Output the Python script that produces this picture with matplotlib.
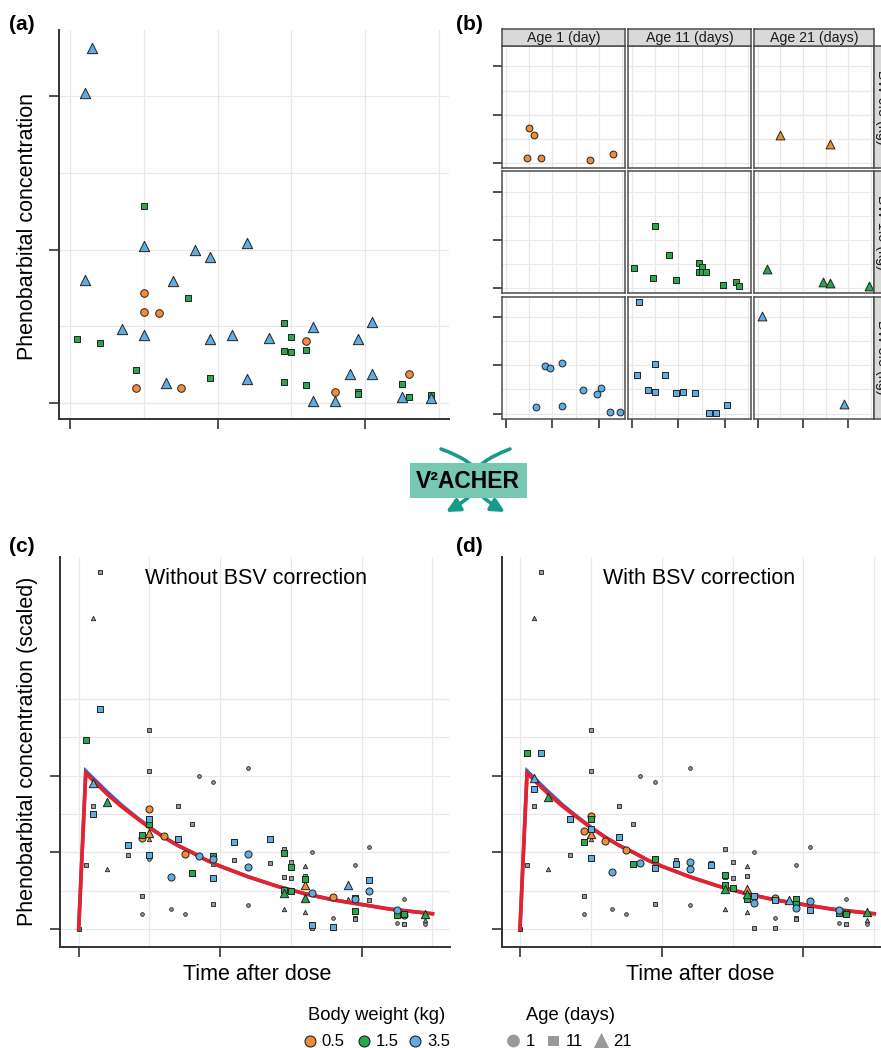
import numpy as np
import matplotlib.pyplot as plt
from matplotlib.patches import Rectangle, FancyArrowPatch

# ---------------- data ----------------
# raw observations, panels (a) and (b)
obs_time = [5.0, 6.0, 4.5, 7.5, 18.0, 23.0,
            5.0, 16.0,
            0.5, 5.0, 4.5, 8.0, 9.5, 14.5, 14.5, 15.0, 15.0, 16.0, 19.5, 19.5, 22.5, 23.0,
            2.0, 14.5, 16.0, 24.5,
            8.5, 9.5, 12.0, 16.5, 19.5, 20.5, 6.5, 12.0, 22.5, 24.5,
            1.5, 5.0, 1.0, 7.0, 3.5, 5.0, 9.5, 11.0, 13.5, 16.5, 18.0, 20.5,
            1.0, 19.0]
obs_conc = [7.2, 5.85, 1.0, 1.0, 0.7, 1.9,
            5.9, 4.05,
            4.18, 12.85, 2.12, 6.84, 1.65, 5.22, 3.39, 4.31, 3.32, 3.44, 0.70, 0.58, 1.23, 0.39,
            3.92, 1.35, 1.15, 0.5,
            9.95, 9.5, 10.4, 4.95, 4.15, 5.3, 1.3, 1.55, 0.38, 0.35,
            23.15, 10.2, 8.0, 7.95, 4.8, 4.45, 4.2, 4.45, 4.25, 0.15, 0.12, 1.87,
            20.2, 1.9]
obs_bw = [0.5, 0.5, 0.5, 0.5, 0.5, 0.5,
          0.5, 0.5,
          1.5, 1.5, 1.5, 1.5, 1.5, 1.5, 1.5, 1.5, 1.5, 1.5, 1.5, 1.5, 1.5, 1.5,
          1.5, 1.5, 1.5, 1.5,
          3.5, 3.5, 3.5, 3.5, 3.5, 3.5, 3.5, 3.5, 3.5, 3.5,
          3.5, 3.5, 3.5, 3.5, 3.5, 3.5, 3.5, 3.5, 3.5, 3.5, 3.5, 3.5,
          3.5, 3.5]
obs_age = [1, 1, 1, 1, 1, 1,
           21, 21,
           11, 11, 11, 11, 11, 11, 11, 11, 11, 11, 11, 11, 11, 11,
           21, 21, 21, 21,
           1, 1, 1, 1, 1, 1, 1, 1, 1, 1,
           11, 11, 11, 11, 11, 11, 11, 11, 11, 11, 11, 11,
           21, 21]

# other individuals (grey background points, panels c and d)
oth_time = [0.0, 4.5, 5.0, 6.5, 7.5, 8.5, 9.5, 12.0, 12.0, 16.5, 18.0, 19.5, 20.5, 22.5, 23.0, 24.5,
            0.0, 1.5, 1.0, 0.5, 5.0, 5.0, 3.5, 4.5, 7.0, 8.0, 9.5, 9.5, 11.0, 13.5, 14.5, 15.0,
            14.5, 15.0, 16.0, 16.5, 18.0, 19.5, 19.5, 20.5, 23.0,
            1.0, 2.0, 5.0, 14.5, 16.0, 16.0, 19.0, 24.5]
oth_conc = [0.0, 0.20, 0.91, 0.26, 0.20, 2.0, 1.92, 2.10, 0.32, 1.0, 0.15, 0.83, 1.07, 0.08, 0.39, 0.07,
            0.0, 4.65, 1.61, 0.84, 2.59, 2.06, 0.96, 0.43, 1.60, 1.37, 0.85, 0.33, 0.90, 0.86, 1.04, 0.87,
            0.68, 0.66, 0.69, 0.02, 0.01, 0.15, 0.13, 0.38, 0.07,
            4.05, 0.78, 1.18, 0.26, 0.82, 0.22, 0.39, 0.12]
oth_age = [1, 1, 1, 1, 1, 1, 1, 1, 1, 1, 1, 1, 1, 1, 1, 1,
           11, 11, 11, 11, 11, 11, 11, 11, 11, 11, 11, 11, 11, 11, 11, 11,
           11, 11, 11, 11, 11, 11, 11, 11, 11,
           21, 21, 21, 21, 21, 21, 21, 21]

# scaled observations of the highlighted subjects, without correction (c)
raw_time = [5.0, 4.5, 6.0, 7.5, 18.0, 23.0,
            5.0, 16.0,
            0.5, 5.0, 4.5, 8.0, 9.5, 14.5, 15.0, 14.5, 15.0, 16.0, 19.5, 19.5, 22.5, 23.0,
            2.0, 14.5, 16.0, 24.5,
            6.5, 8.5, 9.5, 12.0, 12.0, 16.5, 19.5, 20.5, 22.5,
            1.5, 1.0, 3.5, 5.0, 5.0, 7.0, 9.5, 11.0, 13.5, 16.5, 18.0, 20.5,
            1.0, 19.0]
raw_conc = [1.57, 1.19, 1.21, 0.98, 0.42, 0.18,
            1.25, 0.58,
            2.46, 1.37, 1.23, 0.73, 0.95, 0.99, 0.81, 0.51, 0.50, 0.65, 0.40, 0.24, 0.18, 0.20,
            1.65, 0.47, 0.40, 0.20,
            0.68, 0.95, 0.91, 0.98, 0.81, 0.47, 0.39, 0.49, 0.25,
            2.87, 1.50, 1.09, 1.44, 0.96, 1.18, 0.67, 1.14, 1.17, 0.05, 0.03, 0.64,
            1.90, 0.58]
raw_bw = [0.5, 0.5, 0.5, 0.5, 0.5, 0.5,
          0.5, 0.5,
          1.5, 1.5, 1.5, 1.5, 1.5, 1.5, 1.5, 1.5, 1.5, 1.5, 1.5, 1.5, 1.5, 1.5,
          1.5, 1.5, 1.5, 1.5,
          3.5, 3.5, 3.5, 3.5, 3.5, 3.5, 3.5, 3.5, 3.5,
          3.5, 3.5, 3.5, 3.5, 3.5, 3.5, 3.5, 3.5, 3.5, 3.5, 3.5, 3.5,
          3.5, 3.5]
raw_age = [1, 1, 1, 1, 1, 1,
           21, 21,
           11, 11, 11, 11, 11, 11, 11, 11, 11, 11, 11, 11, 11, 11,
           21, 21, 21, 21,
           1, 1, 1, 1, 1, 1, 1, 1, 1,
           11, 11, 11, 11, 11, 11, 11, 11, 11, 11, 11, 11,
           21, 21]

# same subjects after V2ACHER correction (d)
cor_time = [5.0, 4.5, 6.0, 7.5, 18.0, 23.0,
            5.0, 16.0,
            0.5, 5.0, 4.5, 8.0, 9.5, 14.5, 14.5, 15.0, 16.0, 19.5, 19.5, 22.5, 23.0,
            2.0, 14.5, 16.0, 24.5,
            6.5, 8.5, 12.0, 12.0, 16.5, 19.5, 20.5, 22.5,
            1.5, 1.0, 3.5, 5.0, 5.0, 7.0, 9.5, 11.0, 13.5, 16.5, 18.0, 20.5,
            1.0, 19.0]
cor_conc = [1.48, 1.28, 1.15, 1.03, 0.41, 0.21,
            1.24, 0.52,
            2.30, 1.44, 1.14, 0.85, 0.91, 0.71, 0.57, 0.54, 0.39, 0.39, 0.33, 0.21, 0.20,
            1.72, 0.52, 0.46, 0.22,
            0.75, 0.86, 0.87, 0.78, 0.34, 0.27, 0.37, 0.25,
            2.30, 1.83, 1.44, 1.30, 0.93, 1.20, 0.79, 0.85, 0.83, 0.43, 0.38, 0.25,
            1.97, 0.38]
cor_bw = [0.5, 0.5, 0.5, 0.5, 0.5, 0.5,
          0.5, 0.5,
          1.5, 1.5, 1.5, 1.5, 1.5, 1.5, 1.5, 1.5, 1.5, 1.5, 1.5, 1.5, 1.5,
          1.5, 1.5, 1.5, 1.5,
          3.5, 3.5, 3.5, 3.5, 3.5, 3.5, 3.5, 3.5,
          3.5, 3.5, 3.5, 3.5, 3.5, 3.5, 3.5, 3.5, 3.5, 3.5, 3.5, 3.5,
          3.5, 3.5]
cor_age = [1, 1, 1, 1, 1, 1,
           21, 21,
           11, 11, 11, 11, 11, 11, 11, 11, 11, 11, 11, 11, 11,
           21, 21, 21, 21,
           1, 1, 1, 1, 1, 1, 1, 1,
           11, 11, 11, 11, 11, 11, 11, 11, 11, 11, 11, 11,
           21, 21]

# typical-subject prediction (red) and individual prediction (blue, under it)
curve_time = [0, 0.5, 1, 2, 3, 4, 5, 6, 7, 8, 9, 10, 11, 12, 13, 14, 15, 16, 17, 18,
              19, 20, 21, 22, 23, 24, 25]
curve_pred = [0, 2.03, 1.94, 1.76, 1.60, 1.46, 1.32, 1.20, 1.09, 1.00, 0.90, 0.82, 0.75, 0.68,
              0.62, 0.56, 0.51, 0.46, 0.42, 0.38, 0.35, 0.32, 0.29, 0.26, 0.24, 0.22, 0.20]
curve_ind = [0, 2.06, 1.97, 1.79, 1.62, 1.47, 1.33, 1.20, 1.09, 1.00, 0.90, 0.82, 0.75, 0.68,
             0.62, 0.56, 0.51, 0.46, 0.42, 0.38, 0.35, 0.32, 0.29, 0.26, 0.24, 0.22, 0.20]

bw_levels = [0.5, 1.5, 3.5]
age_levels = [1, 11, 21]
strip_top = ['Age 1 (day)', 'Age 11 (days)', 'Age 21 (days)']
strip_right = ['BW 0.5 (kg)', 'BW 1.5 (kg)', 'BW 3.5 (kg)']

# ---------------- style ----------------
plt.rcParams['font.family'] = ['Liberation Sans', 'DejaVu Sans']

bw_color = {0.5: '#F38C37', 1.5: '#27A84A', 3.5: '#5EAEE3'}
age_marker = {1: 'o', 11: 's', 21: '^'}
edge = '#222222'
grid_col = '#E8E8E8'
axis_col = '#333333'

W, H = 881, 1048
fig = plt.figure(figsize=(W / 100, H / 100), dpi=100)


def px_rect(l, t, r, b):
    return [l / W, 1 - b / H, (r - l) / W, (b - t) / H]


def add_grid(ax, xs, ys):
    for x in xs:
        ax.axvline(x, color=grid_col, lw=0.9, zorder=0)
    for y in ys:
        ax.axhline(y, color=grid_col, lw=0.9, zorder=0)


def open_axes(ax, xt, yt):
    for s in ['top', 'right']:
        ax.spines[s].set_visible(False)
    for s in ['left', 'bottom']:
        ax.spines[s].set_color(axis_col)
        ax.spines[s].set_linewidth(1.4)
    ax.set_xticks(xt)
    ax.set_yticks(yt)
    ax.tick_params(direction='out', length=7, width=1.2, color=axis_col,
                   labelleft=False, labelbottom=False)


obs_time = np.array(obs_time); obs_conc = np.array(obs_conc)
obs_bw = np.array(obs_bw); obs_age = np.array(obs_age)

# ---------------- panel (a) ----------------
ax = fig.add_axes(px_rect(59, 30, 449, 419))
shape_a = {0.5: 'o', 1.5: 's', 3.5: '^'}
size_a = {0.5: 30, 1.5: 22, 3.5: 55}
for bw in bw_levels:
    sel = obs_bw == bw
    ax.scatter(obs_time[sel], obs_conc[sel], marker=shape_a[bw], s=size_a[bw],
               c=bw_color[bw], edgecolors=edge, linewidths=0.7, zorder=3)
ax.set_xlim(-0.75, 25.7)
ax.set_ylim(-1.04, 24.3)
add_grid(ax, [0, 5, 10, 15, 20, 25], [0, 5, 10, 15, 20])
open_axes(ax, [0, 10, 20], [0, 10, 20])

# ---------------- panel (b) ----------------
col_l = [502.3, 628.3, 754.0]
col_r = [625.3, 751.3, 874.3]
row_t = [46.0, 171.3, 296.7]
row_b = [168.3, 293.3, 418.7]
size_b = {1: 24, 11: 18, 21: 40}
for r, bw in enumerate(bw_levels):
    for c, age in enumerate(age_levels):
        ax = fig.add_axes(px_rect(col_l[c], row_t[r], col_r[c], row_b[r]))
        sel = (obs_bw == bw) & (obs_age == age)
        ax.scatter(obs_time[sel], obs_conc[sel], marker=age_marker[age], s=size_b[age],
                   c=bw_color[bw], edgecolors=edge, linewidths=0.7, zorder=3)
        ax.set_xlim(-0.8, 25.7)
        ax.set_ylim(-1.05, 24.2)
        add_grid(ax, [0, 5, 10, 15, 20, 25], [0, 5, 10, 15, 20])
        for s in ax.spines.values():
            s.set_color('#4d4d4d')
            s.set_linewidth(1.1)
        ax.set_xticks([0, 10, 20])
        ax.set_yticks([0, 10, 20])
        ax.tick_params(direction='out', length=6.5, width=1.2, color=axis_col,
                       labelleft=False, labelbottom=False,
                       left=(c == 0), bottom=(r == 2))
for c in range(3):
    st = fig.add_axes(px_rect(col_l[c], 29, col_r[c], 46))
    st.set_facecolor('#D9D9D9')
    st.set_xticks([]); st.set_yticks([])
    for s in st.spines.values():
        s.set_color('#4d4d4d'); s.set_linewidth(1.1)
    st.text(0.5, 0.45, strip_top[c], ha='center', va='center', fontsize=10.2,
            color='#1a1a1a', transform=st.transAxes)
for r in range(3):
    st = fig.add_axes(px_rect(874.3, row_t[r], 892.0, row_b[r]))
    st.set_facecolor('#D9D9D9')
    st.set_xticks([]); st.set_yticks([])
    for s in st.spines.values():
        s.set_color('#4d4d4d'); s.set_linewidth(1.1)
    st.text(0.42, 0.5, strip_right[r], ha='center', va='center', fontsize=10.2,
            rotation=270, color='#1a1a1a', transform=st.transAxes)

# ---------------- panels (c) and (d) ----------------
oth_time = np.array(oth_time); oth_conc = np.array(oth_conc); oth_age = np.array(oth_age)
size_big = {1: 26, 11: 20, 21: 36}
size_small = {1: 7, 11: 5, 21: 10}

panels = [((60, 556.7, 450, 946.7), (-1.32, 26.24), raw_time, raw_conc, raw_bw, raw_age),
          ((501.7, 556.7, 880, 946.7), (-1.29, 25.41), cor_time, cor_conc, cor_bw, cor_age)]
for box, xl, tt, cc, bb, aa in panels:
    ax = fig.add_axes(px_rect(*box))
    tt = np.array(tt); cc = np.array(cc); bb = np.array(bb); aa = np.array(aa)
    for age in age_levels:
        sel = oth_age == age
        ax.scatter(oth_time[sel], oth_conc[sel], marker=age_marker[age], s=size_small[age],
                   c='#9A9A9A', edgecolors=edge, linewidths=0.6, zorder=2)
    ax.plot(curve_time, curve_ind, color='#3F5FBF', lw=2.6, zorder=3,
            solid_joinstyle='miter')
    ax.plot(curve_time, curve_pred, color='#E8212B', lw=2.6, zorder=4,
            solid_joinstyle='miter')
    for bw in bw_levels:
        for age in age_levels:
            sel = (bb == bw) & (aa == age)
            if sel.any():
                ax.scatter(tt[sel], cc[sel], marker=age_marker[age], s=size_big[age],
                           c=bw_color[bw], edgecolors=edge, linewidths=0.7, zorder=5)
    ax.set_xlim(*xl)
    ax.set_ylim(-0.23, 4.854)
    add_grid(ax, [0, 5, 10, 15, 20, 25], [0, 0.5, 1, 1.5, 2, 2.5, 3])
    open_axes(ax, [0, 10, 20], [0, 1, 2])

# ---------------- overlay: labels, legend, V2ACHER ----------------
ov = fig.add_axes([0, 0, 1, 1])
ov.set_xlim(0, W)
ov.set_ylim(H, 0)
ov.axis('off')

for lab, x, y in [('(a)', 9, 24), ('(b)', 456, 24), ('(c)', 9, 547), ('(d)', 456, 547)]:
    ov.text(x, y, lab, ha='left', va='center', fontsize=15, fontweight='bold')

ov.text(28, 226, 'Phenobarbital concentration', rotation=90, ha='center', va='center',
        fontsize=15.5)
ov.text(28, 751, 'Phenobarbital concentration (scaled)', rotation=90, ha='center',
        va='center', fontsize=15.5)
ov.text(257, 975, 'Time after dose', ha='center', va='center', fontsize=15.5)
ov.text(700, 975, 'Time after dose', ha='center', va='center', fontsize=15.5)
ov.text(256, 578, 'Without BSV correction', ha='center', va='center', fontsize=15.5)
ov.text(699, 578, 'With BSV correction', ha='center', va='center', fontsize=15.5)

# V2ACHER badge with crossing arrows
teal = '#179B89'
for a, b, rad in [((441, 449), (446, 512), -1.1), ((510, 449), (505, 512), 1.06)]:
    ov.add_patch(FancyArrowPatch(a, b, connectionstyle='arc3,rad=%s' % rad,
                                 arrowstyle='-|>', mutation_scale=20, lw=2.6,
                                 shrinkA=0, shrinkB=0, color=teal, zorder=1))
ov.add_patch(Rectangle((410, 463.3), 116.7, 34.4, facecolor='#77C8B2', edgecolor='none',
                       zorder=2))
ov.text(468, 481, 'V²ACHER', ha='center', va='center', fontsize=16.5, fontweight='bold',
        zorder=3)

# legends
ov.text(377, 1015, 'Body weight (kg)', ha='center', va='center', fontsize=13.2)
ov.text(570, 1015, 'Age (days)', ha='center', va='center', fontsize=13.2)
leg_bw_x = [309.5, 363.5, 415.0]
for x, bw in zip(leg_bw_x, bw_levels):
    ov.scatter([x], [1041], s=62, marker='o', c=bw_color[bw], edgecolors=edge,
               linewidths=0.8, clip_on=False)
    ov.text(x + 12, 1042, '%g' % bw, ha='left', va='center', fontsize=12)
leg_age_x = [513.5, 553.5, 601.5]
leg_age_s = {1: 85, 11: 52, 21: 140}
for x, age in zip(leg_age_x, age_levels):
    ov.scatter([x], [1041], s=leg_age_s[age], marker=age_marker[age], c='#999999',
               edgecolors='none', clip_on=False)
    ov.text(x + 12, 1042, str(age), ha='left', va='center', fontsize=12)

fig.savefig('out.png', dpi=100)
